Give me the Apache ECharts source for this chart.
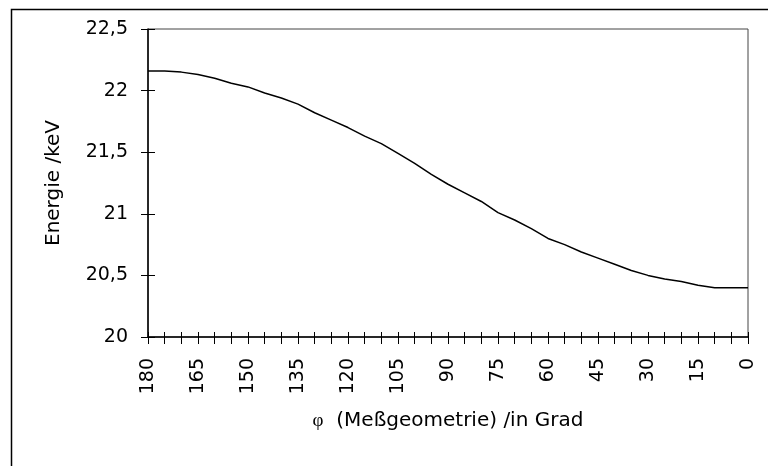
<!DOCTYPE html>
<html>
<head>
<meta charset="utf-8">
<script src="https://cdn.jsdelivr.net/npm/echarts@6/dist/echarts.min.js"></script>
<style>html,body{margin:0;padding:0;background:#fff}#c{width:768px;height:466px}</style>
</head>
<body>
<div id="c"></div>
<script>
var angles = ['180','175','170','165','160','155','150','145','140','135','130','125','120','115','110','105','100','95','90','85','80','75','70','65','60','55','50','45','40','35','30','25','20','15','10','5','0'];
var energy = [22.16,22.16,22.15,22.13,22.10,22.06,22.03,21.98,21.94,21.89,21.82,21.76,21.70,21.63,21.57,21.49,21.41,21.32,21.24,21.17,21.10,21.01,20.95,20.88,20.80,20.75,20.69,20.64,20.59,20.54,20.50,20.47,20.45,20.42,20.40,20.40,20.40];
var yMin = 20, yMax = 22.5, yStep = 0.5;
var xTitle = '(Meßgeometrie) /in Grad';
var yTitle = 'Energie /keV';

var font = 'DejaVu Sans, Liberation Sans, Arial, sans-serif';
var gridLeft = 148, gridRight = 20, chartW = 768;
var chart = echarts.init(document.getElementById('c'), null, {renderer: 'canvas'});
var baseX = {
  type: 'category', data: angles, boundaryGap: false, position: 'bottom'
};
chart.setOption({
  animation: false,
  backgroundColor: '#fff',
  grid: {left: gridLeft, top: 29, right: gridRight, bottom: 129, show: true, borderColor: '#444', borderWidth: 1, backgroundColor: 'transparent'},
  graphic: [{
    type: 'rect', left: 9, top: 7, shape: {x: 0, y: 0, width: 800, height: 500}, z: -1,
    style: {fill: 'none', stroke: '#000', lineWidth: 1.5}
  }],
  xAxis: [
    Object.assign({}, baseX, {
      name: '{phi|φ}  ' + xTitle,
      nameLocation: 'middle', nameGap: 74,
      nameTextStyle: {fontFamily: font, fontSize: 20, color: '#000',
        rich: {phi: {fontFamily: 'Liberation Serif, serif', fontSize: 19, color: '#000'}}},
      axisLine: {lineStyle: {color: '#000', width: 1.5}},
      axisTick: {show: true, interval: 0, length: 7, lineStyle: {color: '#000'}},
      axisLabel: {interval: 2, rotate: 90, margin: 21, fontFamily: font, fontSize: 19, color: '#000'},
      splitLine: {show: false}
    }),
    Object.assign({}, baseX, {
      axisLine: {show: false},
      axisTick: {show: true, inside: true, interval: 0, length: 5, lineStyle: {color: '#000'}},
      axisLabel: {show: false},
      splitLine: {show: false}
    })
  ],
  yAxis: [
    {
      type: 'value', min: yMin, max: yMax, interval: yStep, position: 'left',
      name: yTitle, nameLocation: 'middle', nameGap: 84,
      nameTextStyle: {fontFamily: font, fontSize: 20, color: '#000'},
      axisLine: {show: true, lineStyle: {color: '#000', width: 1.5}},
      axisTick: {show: true, length: 7, lineStyle: {color: '#000'}},
      axisLabel: {margin: 20, fontFamily: font, fontSize: 19, color: '#000',
        formatter: function (v) { return String(v).replace('.', ','); }},
      splitLine: {show: false}
    },
    {
      type: 'value', min: yMin, max: yMax, interval: yStep, position: 'right',
      offset: -(chartW - gridLeft - gridRight),
      axisLine: {show: false},
      axisTick: {show: true, inside: false, length: 7, lineStyle: {color: '#000', width: 1}},
      axisLabel: {show: false},
      splitLine: {show: false}
    }
  ],
  series: [{
    type: 'line', data: energy, xAxisIndex: 0, yAxisIndex: 0,
    showSymbol: false, symbol: 'none',
    lineStyle: {color: '#000', width: 1.5}
  }, {
    type: 'line', data: energy, xAxisIndex: 1, yAxisIndex: 1,
    showSymbol: false, symbol: 'none', silent: true,
    lineStyle: {color: '#000', width: 1.5, opacity: 0}
  }]
});
</script>
</body>
</html>
